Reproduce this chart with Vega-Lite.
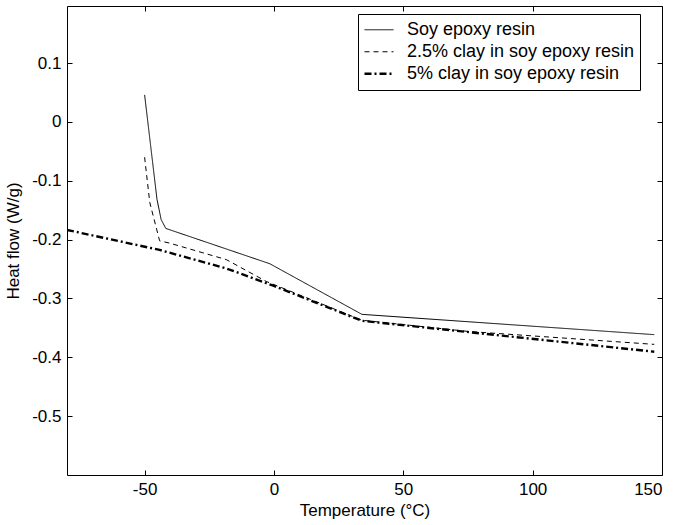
{
  "$schema": "https://vega.github.io/schema/vega-lite/v6.json",
  "autosize": "none",
  "width": 595,
  "height": 469,
  "padding": {"left": 67, "top": 6, "right": 16, "bottom": 50},
  "background": "white",
  "config": {
    "font": "Liberation Sans",
    "view": {"stroke": "black", "strokeWidth": 1},
    "axis": {
      "domain": false,
      "grid": false,
      "tickColor": "black",
      "tickSize": -5,
      "labelColor": "black",
      "labelFontSize": 17,
      "labelFont": "Liberation Sans",
      "titleFont": "Liberation Sans",
      "titleFontSize": 17,
      "titleFontWeight": "normal",
      "titleColor": "black"
    }
  },
  "data": {
    "values": [
      {"series": "Soy epoxy resin", "t": -50, "h": 0.046},
      {"series": "Soy epoxy resin", "t": -45.2, "h": -0.132},
      {"series": "Soy epoxy resin", "t": -43.6, "h": -0.166},
      {"series": "Soy epoxy resin", "t": -41.8, "h": -0.181},
      {"series": "Soy epoxy resin", "t": -1.6, "h": -0.241},
      {"series": "Soy epoxy resin", "t": 34, "h": -0.327},
      {"series": "Soy epoxy resin", "t": 147, "h": -0.3615},
      {"series": "2.5% clay in soy epoxy resin", "t": -50, "h": -0.06},
      {"series": "2.5% clay in soy epoxy resin", "t": -48, "h": -0.137},
      {"series": "2.5% clay in soy epoxy resin", "t": -44.2, "h": -0.202},
      {"series": "2.5% clay in soy epoxy resin", "t": -40.3, "h": -0.206},
      {"series": "2.5% clay in soy epoxy resin", "t": -18.4, "h": -0.234},
      {"series": "2.5% clay in soy epoxy resin", "t": -3, "h": -0.271},
      {"series": "2.5% clay in soy epoxy resin", "t": 34, "h": -0.337},
      {"series": "2.5% clay in soy epoxy resin", "t": 75, "h": -0.356},
      {"series": "2.5% clay in soy epoxy resin", "t": 147, "h": -0.378},
      {"series": "5% clay in soy epoxy resin", "t": -80, "h": -0.1835},
      {"series": "5% clay in soy epoxy resin", "t": -44.2, "h": -0.2175},
      {"series": "5% clay in soy epoxy resin", "t": -18.4, "h": -0.249},
      {"series": "5% clay in soy epoxy resin", "t": 0, "h": -0.2787},
      {"series": "5% clay in soy epoxy resin", "t": 34, "h": -0.338},
      {"series": "5% clay in soy epoxy resin", "t": 147, "h": -0.3905}
    ]
  },
  "layer": [
    {
      "mark": {"type": "line", "color": "black", "clip": true, "strokeCap": "butt"},
      "encoding": {
        "x": {
          "field": "t", "type": "quantitative",
          "scale": {"domain": [-80, 150], "nice": false, "zero": false},
          "axis": {"values": [-50, 0, 50, 100, 150], "labelExpr": "toString(datum.value)", "title": "Temperature (°C)", "labelPadding": 11, "titlePadding": 5}
        },
        "y": {
          "field": "h", "type": "quantitative",
          "scale": {"domain": [-0.6, 0.197], "nice": false, "zero": false},
          "axis": {"values": [-0.5, -0.4, -0.3, -0.2, -0.1, 0, 0.1], "labelExpr": "toString(round(datum.value*10)/10)", "title": "Heat flow (W/g)", "labelPadding": 11, "titlePadding": 9}
        },
        "strokeDash": {
          "field": "series", "type": "nominal",
          "scale": {
            "domain": ["Soy epoxy resin", "2.5% clay in soy epoxy resin", "5% clay in soy epoxy resin"],
            "range": [[1, 0], [5, 4], [7, 3, 2, 3]]
          },
          "legend": {
            "title": null,
            "orient": "none",
            "legendX": 291,
            "legendY": 8,
            "symbolType": "stroke",
            "symbolSize": 841,
            "symbolStrokeColor": "black",
            "labelFontSize": 18,
            "labelColor": "black",
            "labelLimit": 0,
            "labelExpr": "datum.label + '\u00a0\u00a0\u00a0'",
            "labelOffset": 12,
            "clipHeight": 21.5,
            "rowPadding": 0,
            "padding": 5,
            "strokeColor": "black",
            "fillColor": "white",
            "cornerRadius": 0
          }
        },
        "strokeWidth": {
          "field": "series", "type": "nominal",
          "scale": {
            "type": "ordinal",
            "domain": ["Soy epoxy resin", "2.5% clay in soy epoxy resin", "5% clay in soy epoxy resin"],
            "range": [1, 1, 2.4]
          }
        }
      }
    },
    {
      "mark": {"type": "point", "opacity": 0},
      "encoding": {
        "x": {
          "field": "t", "type": "quantitative",
          "scale": {"domain": [-80, 150], "nice": false, "zero": false},
          "axis": {"orient": "top", "values": [-50, 0, 50, 100, 150], "labels": false, "title": null}
        },
        "y": {
          "field": "h", "type": "quantitative",
          "scale": {"domain": [-0.6, 0.197], "nice": false, "zero": false},
          "axis": {"orient": "right", "values": [-0.5, -0.4, -0.3, -0.2, -0.1, 0, 0.1], "labels": false, "title": null}
        }
      }
    }
  ],
  "resolve": {"axis": {"x": "independent", "y": "independent"}}
}
